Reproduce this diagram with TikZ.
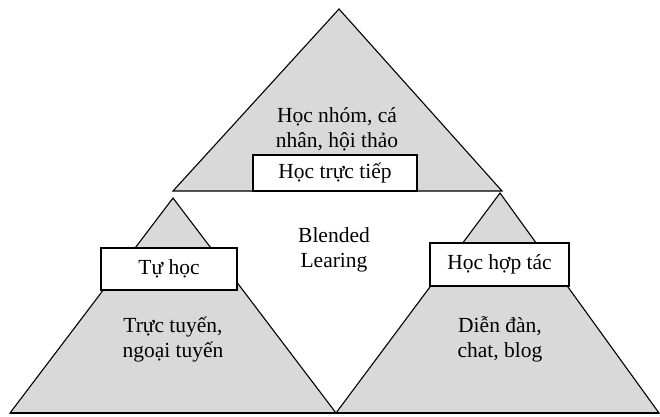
\documentclass[tikz,border=0pt]{standalone}
\usepackage{fontspec}
\setmainfont{Liberation Serif}
\definecolor{tri}{HTML}{D9D9D9}
\begin{document}
\begin{tikzpicture}[x=1pt,y=-1pt,
  tribox/.style={fill=tri,draw=black,line width=1.1pt,line join=miter},
  lbl/.style={draw=black,fill=white,line width=1.1pt,inner sep=0pt,font=\fontsize{21.5}{25}\selectfont},
  txt/.style={align=center,inner sep=0pt,font=\fontsize{21.5}{25}\selectfont}]
\useasboundingbox (0,0) rectangle (660,416);
% corners
\coordinate (tA) at (339,9);
\coordinate (tL) at (173,191);
\coordinate (tR) at (502,191);
\coordinate (lA) at (173,198);
\coordinate (lL) at (10,413);
\coordinate (lR) at (336,413);
\coordinate (rA) at (500,193);
\coordinate (rL) at (336,413);
\coordinate (rR) at (659,413);
% triangles
\draw[tribox] (tA) -- (tR) -- (tL) -- cycle;
\draw[tribox] (lA) -- (lR) -- (lL) -- cycle;
\draw[tribox] (rA) -- (rR) -- (rL) -- cycle;
\draw[line width=2pt] (lL) -- (rR);
% label boxes
\node[lbl,minimum width=164pt,minimum height=36pt] (direct) at (335,173) {Học trực tiếp};
\node[lbl,minimum width=136pt,minimum height=42pt] (self) at (169,269) {Tự học};
\node[lbl,minimum width=139pt,minimum height=43pt] (coop) at (499.5,264.5) {Học hợp tác};
% texts (anchor = baseline of last line)
\node[txt,anchor=base] (topt) at (337,147) {Học nhóm, cá\\nhân, hội thảo};
\node[txt,anchor=base] (blend) at (334,267) {Blended\\Learing};
\node[txt,anchor=base] (leftt) at (173,357) {Trực tuyến,\\ngoại tuyến};
\node[txt,anchor=base] (rightt) at (500,357) {Diễn đàn,\\chat, blog};
\end{tikzpicture}
\end{document}
